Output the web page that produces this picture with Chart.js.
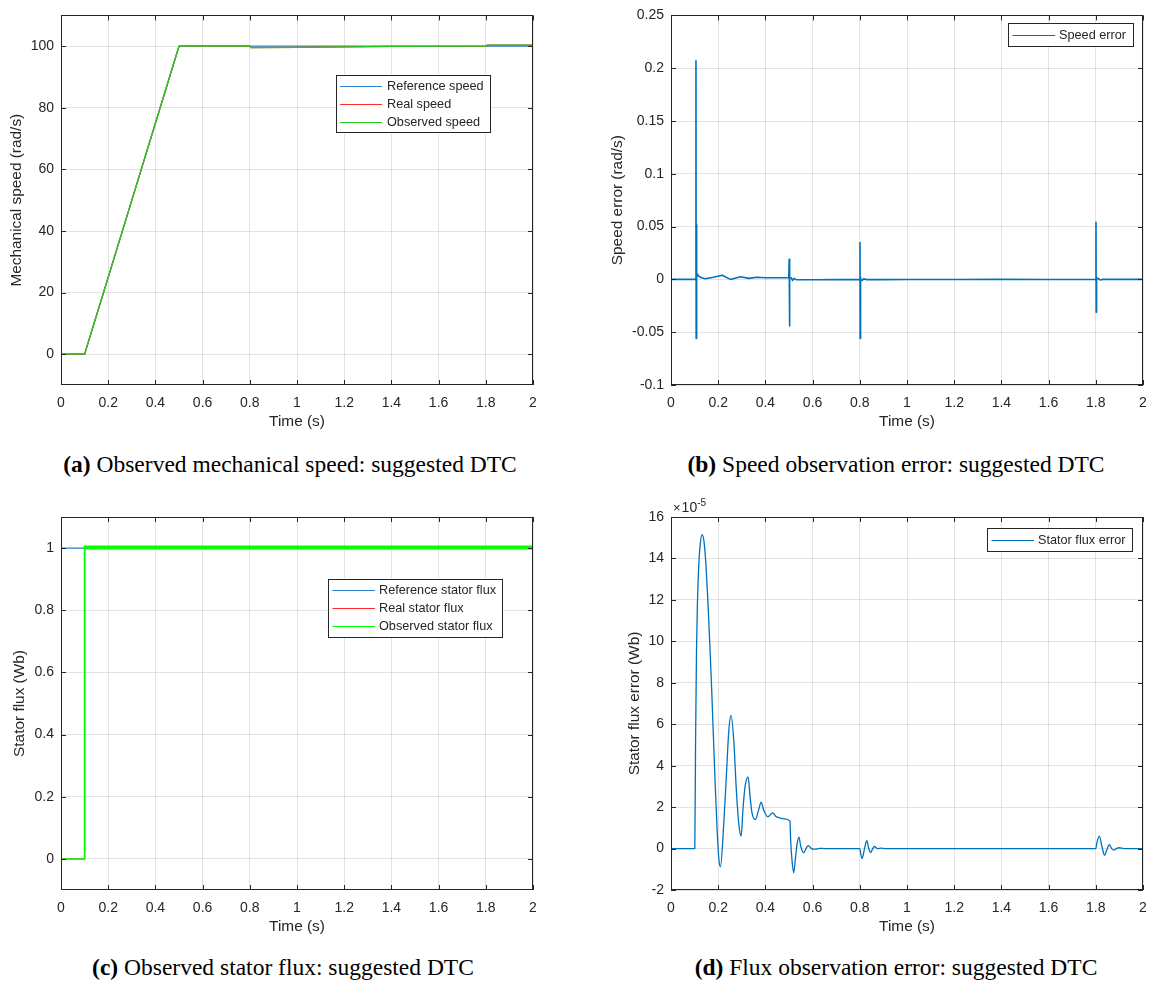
<!DOCTYPE html>
<html>
<head>
<meta charset="utf-8">
<title>Suggested DTC: observer results</title>
<script src="https://cdn.jsdelivr.net/npm/chart.js@4.4.0/dist/chart.umd.min.js"></script>
<style>
  html, body { margin: 0; padding: 0; background: #fff; }
  body { width: 1150px; height: 985px; position: relative; overflow: hidden; }
  .panel { position: absolute; }
  .panel canvas { display: block; }
  .cap {
    position: absolute;
    font-family: "Liberation Serif", "Times New Roman", serif;
    font-size: 23.5px;
    line-height: 1;
    color: #000;
    white-space: nowrap;
    transform: translate(-50%, -50%);
  }
</style>
</head>
<body>
<div class="panel" style="left:0;top:0"><canvas id="chartA" width="575" height="440"></canvas></div>
<div class="panel" style="left:575px;top:0"><canvas id="chartB" width="575" height="440"></canvas></div>
<div class="panel" style="left:0;top:490px"><canvas id="chartC" width="575" height="450"></canvas></div>
<div class="panel" style="left:575px;top:490px"><canvas id="chartD" width="575" height="450"></canvas></div>

<div class="cap" style="left:290px;top:465px"><b>(a)</b> Observed mechanical speed: suggested DTC</div>
<div class="cap" style="left:896px;top:465px"><b>(b)</b> Speed observation error: suggested DTC</div>
<div class="cap" style="left:283px;top:968px"><b>(c)</b> Observed stator flux: suggested DTC</div>
<div class="cap" style="left:896px;top:968px"><b>(d)</b> Flux observation error: suggested DTC</div>

<script>
// ---------- shared time axis ----------
const xTicks = [0, 0.2, 0.4, 0.6, 0.8, 1, 1.2, 1.4, 1.6, 1.8, 2];
const xTickLabels = ['0', '0.2', '0.4', '0.6', '0.8', '1', '1.2', '1.4', '1.6', '1.8', '2'];

// ---------- (a) mechanical speed, rad/s ----------
const speedTicks = [0, 20, 40, 60, 80, 100];
const speedTickLabels = ['0', '20', '40', '60', '80', '100'];
const refSpeedTime = [0, 0.1, 0.5, 2];
const refSpeed = [0, 0, 100, 100];
const realSpeedTime = [0, 0.1, 0.5, 0.8, 0.805, 1.0, 1.2, 1.4, 1.8, 1.805, 2];
const realSpeed = [0, 0, 100, 100, 99.55, 99.62, 99.78, 99.95, 100, 100.33, 100.33];
const obsSpeedTime = [0, 0.1, 0.5, 0.8, 0.805, 1.0, 1.2, 1.4, 1.8, 1.805, 2];
const obsSpeed = [0, 0, 100, 100, 99.54, 99.62, 99.78, 99.95, 100, 100.34, 100.34];

// ---------- (b) speed observation error, rad/s ----------
const errTicks = [-0.1, -0.05, 0, 0.05, 0.1, 0.15, 0.2, 0.25];
const errTickLabels = ['-0.1', '-0.05', '0', '0.05', '0.1', '0.15', '0.2', '0.25'];
const speedErrTime = [
  0, 0.105, 0.1058, 0.1066, 0.1074, 0.1082, 0.109, 0.1098, 0.112, 0.118,
  0.13, 0.146, 0.18, 0.217, 0.252, 0.294, 0.33, 0.363, 0.40, 0.45, 0.499,
  0.5008, 0.5016, 0.5024, 0.504, 0.51, 0.515, 0.522, 0.53, 0.55, 0.6, 0.7, 0.799,
  0.8008, 0.8016, 0.8024, 0.804, 0.81, 0.816, 0.83, 0.9, 1.0, 1.2, 1.4, 1.6, 1.799,
  1.8008, 1.8016, 1.8024, 1.804, 1.81, 1.818, 1.83, 1.9, 2.0
];
const speedErr = [
  0, 0, 0.207, -0.056, 0.052, -0.018, 0.024, 0.002, 0.005, 0.003,
  0.0015, 0.0006, 0.002, 0.004, 0.0, 0.0025, 0.001, 0.002, 0.0015, 0.0015, 0.0015,
  0.019, -0.044, 0.004, 0.0015, 0.0015, -0.001, 0.001, -0.0003, -0.0003, -0.0003, -0.0002, -0.0002,
  0.035, -0.056, 0.002, 0.0, -0.001, 0.0005, -0.0002, -0.0002, -0.0001, -0.0001, 0.0, -0.0001, -0.0001,
  0.054, -0.031, 0.002, 0.0, 0.001, -0.0005, 0.0, 0.0, 0.0
];

// ---------- (c) stator flux, Wb ----------
const fluxTicks = [0, 0.2, 0.4, 0.6, 0.8, 1];
const fluxTickLabels = ['0', '0.2', '0.4', '0.6', '0.8', '1'];
const refFluxTime = [0, 2];
const refFlux = [1, 1];
const realFluxTime = [0, 0.1, 0.1, 2];
const realFlux = [0, 0, 1, 1];
const obsFluxTime = [0, 0.1, 0.1, 0.102, 2];
const obsFlux = [0, 0, 1, 1.002, 1.002];

// ---------- (d) stator flux observation error, x1e-5 Wb ----------
const fluxErrTicks = [-2, 0, 2, 4, 6, 8, 10, 12, 14, 16];
const fluxErrTickLabels = ['-2', '0', '2', '4', '6', '8', '10', '12', '14', '16'];
const fluxErrTime = [
  0, 0.1009, 0.104, 0.108, 0.112, 0.117, 0.124, 0.132, 0.14, 0.148, 0.156, 0.164, 0.172, 0.18, 0.188, 0.195, 0.202, 0.2095,
  0.2236, 0.235, 0.245, 0.2547, 0.266, 0.277, 0.287, 0.297, 0.3056, 0.314, 0.3267, 0.335, 0.3436, 0.3577,
  0.372, 0.3817, 0.393, 0.41, 0.431, 0.445, 0.46, 0.48, 0.504, 0.507, 0.513, 0.52, 0.527, 0.534, 0.542,
  0.55, 0.5625, 0.572, 0.582, 0.595, 0.61, 0.63, 0.65,
  0.8, 0.803, 0.81, 0.82, 0.83, 0.838, 0.845, 0.853, 0.862, 0.875, 0.89, 0.91,
  1.8, 1.805, 1.815, 1.826, 1.837, 1.847, 1.857, 1.866, 1.876, 1.887, 1.898, 1.92, 2
];
const fluxErr = [
  0, 0, 5, 9.5, 11.8, 13.5, 14.7, 15.15, 14.8, 13.7, 12.0, 10.0, 7.8, 5.3, 2.9, 1.0, -0.4, -0.88,
  1.2, 3.6, 5.7, 6.43, 5.2, 2.8, 1.2, 0.6, 2.0, 3.0, 3.46, 2.5, 1.7, 1.4,
  1.9, 2.24, 1.85, 1.53, 1.72, 1.55, 1.48, 1.43, 1.32, 0.4, -0.6, -1.17, -0.5, 0.2, 0.55,
  0.1, -0.2, 0.0, 0.14, 0.0, -0.03, 0.01, 0,
  0, -0.2, -0.48, 0.0, 0.38, 0.0, -0.2, -0.05, 0.1, 0.0, 0.02, 0,
  0, 0.3, 0.6, 0.1, -0.32, -0.05, 0.19, 0.02, -0.08, 0, 0.04, 0, 0
];

// ---------- styling ----------
const TEXT = '#262626';
const GRID = 'rgba(38,38,38,0.13)';
const SANS = '"Liberation Sans", Arial, Helvetica, sans-serif';
const BLUE = '#0072BD';

function series(t, v) { return t.map((x, i) => ({ x, y: v[i] })); }

// box around the axes with inward tick marks on all four sides
const boxAxes = {
  id: 'boxAxes',
  afterDatasetsDraw(chart) {
    const { ctx, chartArea: a, scales: { x, y } } = chart;
    const L = 5;
    ctx.save();
    ctx.strokeStyle = TEXT;
    ctx.lineWidth = 1;
    ctx.beginPath();
    x.ticks.forEach(t => {
      const p = Math.round(x.getPixelForValue(t.value)) + 0.5;
      ctx.moveTo(p, a.bottom); ctx.lineTo(p, a.bottom - L);
      ctx.moveTo(p, a.top); ctx.lineTo(p, a.top + L);
    });
    y.ticks.forEach(t => {
      const p = Math.round(y.getPixelForValue(t.value)) + 0.5;
      ctx.moveTo(a.left, p); ctx.lineTo(a.left + L, p);
      ctx.moveTo(a.right, p); ctx.lineTo(a.right - L, p);
    });
    ctx.stroke();
    ctx.strokeRect(Math.round(a.left) + 0.5, Math.round(a.top) + 0.5,
                   Math.round(a.right - a.left) - 1, Math.round(a.bottom - a.top) - 1);
    ctx.restore();
  }
};

// boxed legend placed inside the axes
const boxLegend = {
  id: 'boxLegend',
  afterDraw(chart, args, o) {
    if (!o || !o.left) return;
    const ctx = chart.ctx;
    const items = chart.data.datasets.map(d => ({ label: d.label, color: d.borderColor }));
    ctx.save();
    ctx.font = '12.7px ' + SANS;
    const tw = Math.max(...items.map(it => ctx.measureText(it.label).width));
    const w = Math.round(o.textDx + tw + o.padR);
    const h = Math.round(items.length * o.rowH + 2 * o.padV);
    ctx.fillStyle = '#fff';
    ctx.fillRect(o.left, o.top, w, h);
    ctx.strokeStyle = TEXT;
    ctx.lineWidth = 1;
    ctx.strokeRect(o.left + 0.5, o.top + 0.5, w, h);
    items.forEach((it, i) => {
      const cy = o.top + o.padV + o.rowH * (i + 0.5);
      ctx.strokeStyle = it.color;
      ctx.lineWidth = 1;
      ctx.beginPath();
      ctx.moveTo(o.left + o.lineDx0, Math.round(cy) + 0.5);
      ctx.lineTo(o.left + o.lineDx1, Math.round(cy) + 0.5);
      ctx.stroke();
      ctx.fillStyle = TEXT;
      ctx.textBaseline = 'middle';
      ctx.textAlign = 'left';
      ctx.fillText(it.label, o.left + o.textDx, cy + 0.5);
    });
    ctx.restore();
  }
};

// "x10^-5" multiplier written above the y axis
const yExponent = {
  id: 'yExponent',
  afterDraw(chart, args, o) {
    if (!o || !o.power) return;
    const { ctx, chartArea: a } = chart;
    ctx.save();
    ctx.fillStyle = TEXT;
    ctx.textBaseline = 'middle';
    ctx.textAlign = 'left';
    ctx.font = '13px ' + SANS;
    const x0 = a.left + 2, yc = a.top - 9;
    ctx.fillText('\u00d7', x0, yc);
    const wx = ctx.measureText('\u00d7').width;
    ctx.font = '14px ' + SANS;
    ctx.fillText('10', x0 + wx + 1, yc);
    const w10 = ctx.measureText('10').width;
    ctx.font = '10px ' + SANS;
    ctx.fillText(o.power, x0 + wx + 1 + w10, yc - 5);
    ctx.restore();
  }
};

function axes(o) {
  const tickFont = { family: SANS, size: 14 };
  const titleFont = { family: SANS, size: 15.4 };
  return {
    x: {
      type: 'linear', min: 0, max: 2,
      afterBuildTicks: s => { s.ticks = xTicks.map(v => ({ value: v })); },
      // fixed axis height; end labels only need their own half width
      afterFit: s => { s.height = o.xH; s.paddingLeft = 4; s.paddingRight = 4; },
      ticks: { autoSkip: false, maxRotation: 0, padding: 10, color: TEXT, font: tickFont,
               callback: (v, i) => xTickLabels[i] },
      grid: { color: GRID, lineWidth: 1, drawTicks: false },
      border: { display: false },
      title: { display: true, text: 'Time (s)', color: TEXT, font: titleFont,
               padding: { top: 0, bottom: o.xTitlePad } }
    },
    y: {
      type: 'linear', min: o.yMin, max: o.yMax,
      afterBuildTicks: s => { s.ticks = o.yTicks.map(v => ({ value: v })); },
      afterFit: s => { s.width = o.yW; },
      ticks: { autoSkip: false, padding: 7, color: TEXT, font: tickFont,
               callback: (v, i) => o.yLabels[i] },
      grid: { color: GRID, lineWidth: 1, drawTicks: false },
      border: { display: false },
      title: { display: true, text: o.yTitle, color: TEXT, font: titleFont,
               padding: { top: o.yTitlePad, bottom: 0 } }
    }
  };
}

function makeChart(id, datasets, o, legend, exponent) {
  return new Chart(document.getElementById(id), {
    type: 'line',
    data: { datasets },
    options: {
      responsive: false,
      animation: false,
      devicePixelRatio: 1,
      parsing: true,
      layout: { padding: { left: 0, top: o.padTop, right: o.padRight, bottom: 0 } },
      elements: { point: { radius: 0, hoverRadius: 0 }, line: { borderJoinStyle: 'round' } },
      scales: axes(o),
      plugins: {
        legend: { display: false },
        tooltip: { enabled: false },
        boxLegend: legend || {},
        yExponent: exponent || {}
      }
    },
    plugins: [boxAxes, boxLegend, yExponent]
  });
}

// (a) observed mechanical speed
makeChart('chartA', [
  { label: 'Reference speed', data: series(refSpeedTime, refSpeed), borderColor: '#2a82d0', borderWidth: 1.2, order: 2 },
  { label: 'Real speed', data: series(realSpeedTime, realSpeed), borderColor: '#ff2a2a', borderWidth: 1.2, order: 1 },
  { label: 'Observed speed', data: series(obsSpeedTime, obsSpeed), borderColor: '#22cc22', borderWidth: 1.3, order: 0 }
], { padTop: 12, padRight: 42, yW: 61, xH: 55, yMin: -10, yMax: 110,
     yTicks: speedTicks, yLabels: speedTickLabels, yTitle: 'Mechanical speed (rad/s)',
     yTitlePad: 7.5, xTitlePad: 9 },
   { left: 336, top: 75, rowH: 18, padV: 1.7, lineDx0: 4, lineDx1: 46, textDx: 51, padR: 6 });

// (b) speed observation error
makeChart('chartB', [
  { label: 'Speed error', data: series(speedErrTime, speedErr), borderColor: BLUE, borderWidth: 1.6 }
], { padTop: 12, padRight: 7, yW: 96, xH: 55, yMin: -0.1, yMax: 0.25,
     yTicks: errTicks, yLabels: errTickLabels, yTitle: 'Speed error (rad/s)',
     yTitlePad: 33.4, xTitlePad: 9 },
   { left: 433, top: 23, rowH: 18, padV: 2.5, lineDx0: 4.5, lineDx1: 47, textDx: 51, padR: 7 });

// (c) observed stator flux
makeChart('chartC', [
  { label: 'Reference stator flux', data: series(refFluxTime, refFlux), borderColor: '#2a82d0', borderWidth: 1.2, order: 2 },
  { label: 'Real stator flux', data: series(realFluxTime, realFlux), borderColor: '#ff2a2a', borderWidth: 1.4, order: 1 },
  { label: 'Observed stator flux', data: series(obsFluxTime, obsFlux), borderColor: '#00ff00', borderWidth: 1.4, order: 0,
    segment: { borderWidth: c => (c.p0.parsed.y > 0.5 && c.p1.parsed.y > 0.5 ? 4 : 1.4) } }
], { padTop: 27, padRight: 42, yW: 61, xH: 50, yMin: -0.1, yMax: 1.1,
     yTicks: fluxTicks, yLabels: fluxTickLabels, yTitle: 'Stator flux (Wb)',
     yTitlePad: 11, xTitlePad: 4 },
   { left: 328, top: 89, rowH: 18, padV: 2, lineDx0: 4.5, lineDx1: 47, textDx: 51, padR: 6 });

// (d) stator flux observation error (values in units of 1e-5 Wb)
makeChart('chartD', [
  { label: 'Stator flux error', data: series(fluxErrTime, fluxErr), borderColor: BLUE, borderWidth: 1.3,
    cubicInterpolationMode: 'monotone' }
], { padTop: 27, padRight: 7, yW: 96, xH: 50, yMin: -2, yMax: 16,
     yTicks: fluxErrTicks, yLabels: fluxErrTickLabels, yTitle: 'Stator flux error (Wb)',
     yTitlePad: 50.5, xTitlePad: 4 },
   { left: 412, top: 38, rowH: 18, padV: 2.5, lineDx0: 4.5, lineDx1: 47, textDx: 51, padR: 7 },
   { power: '-5' });
</script>
</body>
</html>
